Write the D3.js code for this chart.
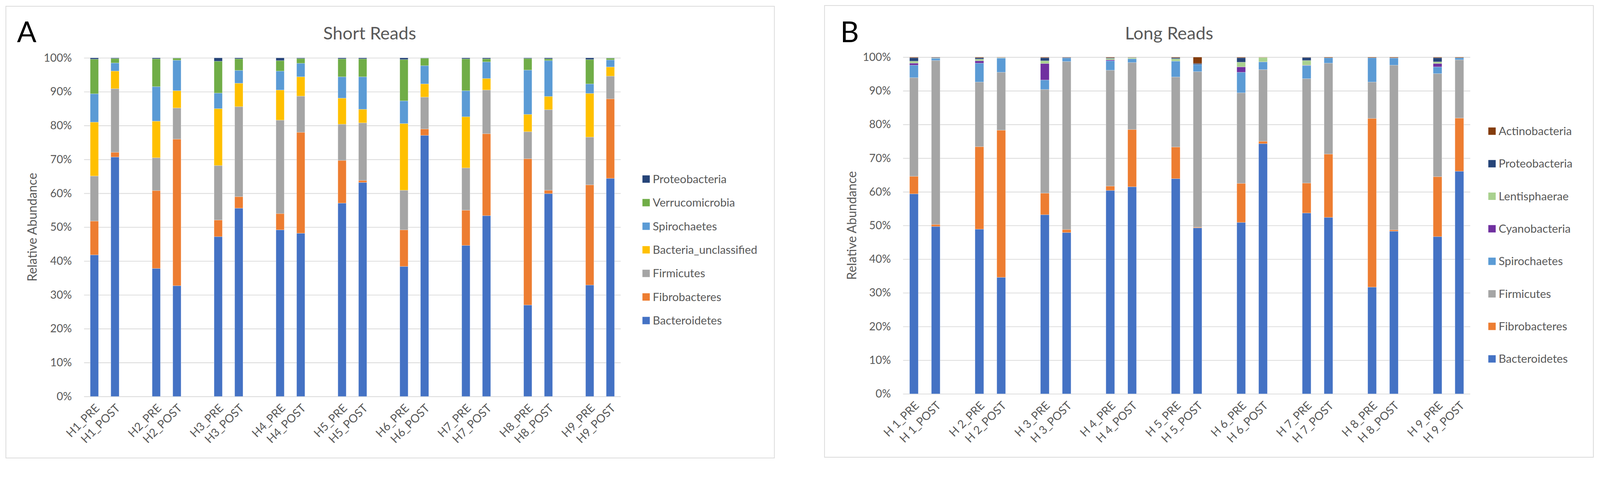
<!DOCTYPE html>
<html>
<head>
<meta charset="utf-8">
<script src="https://cdn.jsdelivr.net/npm/d3@7"></script>
<style>
  html, body { margin: 0; padding: 0; background: #fff; overflow: hidden; }
  svg { display: block; }
  text { font-family: Lato, "Open Sans", sans-serif; }
</style>
</head>
<body>
<div id="chart"></div>
<script>
// ---- Panel A: short reads (relative abundance, %) ----
const samplesA = ["H1_PRE", "H1_POST", "H2_PRE", "H2_POST", "H3_PRE", "H3_POST", "H4_PRE", "H4_POST", "H5_PRE",
                  "H5_POST", "H6_PRE", "H6_POST", "H7_PRE", "H7_POST", "H8_PRE", "H8_POST", "H9_PRE", "H9_POST"];
const phylaA = ["Bacteroidetes", "Fibrobacteres", "Firmicutes", "Bacteria_unclassified", "Spirochaetes", "Verrucomicrobia", "Proteobacteria"];
const bacteroidetesA = [41.8, 70.7, 37.8, 32.7, 47.2, 55.6, 49.2, 48.2, 57.1, 63.2, 38.4, 77.1, 44.6, 53.4, 27.0, 59.9, 32.9, 64.4];
const fibrobacteresA = [10.0, 1.4, 23.0, 43.3, 4.9, 3.4, 4.8, 29.8, 12.6, 0.6, 10.8, 1.9, 10.4, 24.2, 43.2, 1.0, 29.6, 23.5];
const firmicutesA = [13.3, 18.8, 9.7, 9.2, 16.1, 26.6, 27.6, 10.7, 10.7, 17.0, 11.7, 9.4, 12.5, 12.9, 8.0, 23.8, 14.1, 6.7];
const unclassifiedA = [15.9, 5.2, 10.8, 5.1, 16.8, 6.9, 8.9, 5.7, 7.7, 4.0, 19.7, 3.9, 15.1, 3.4, 5.1, 3.9, 12.9, 2.7];
const spirochaetesA = [8.4, 2.4, 10.2, 9.0, 4.6, 3.8, 5.6, 4.0, 6.3, 9.6, 6.7, 5.4, 7.7, 4.9, 13.1, 10.6, 2.8, 2.1];
const verrucomicrobiaA = [10.2, 1.3, 8.2, 0.6, 9.4, 3.4, 3.1, 1.4, 5.3, 5.3, 12.2, 2.2, 9.4, 0.9, 3.4, 0.5, 7.2, 0.5];
const proteobacteriaA = [0.4, 0.2, 0.3, 0.1, 1.0, 0.3, 0.8, 0.2, 0.3, 0.3, 0.5, 0.1, 0.3, 0.3, 0.2, 0.3, 0.5, 0.1];
const colorsA = ["#4472C4", "#ED7D31", "#A5A5A5", "#FFC000", "#5B9BD5", "#70AD47", "#264478"];

// ---- Panel B: long reads ----
const samplesB = ["H 1_PRE", "H 1_POST", "H 2_PRE", "H 2_POST", "H 3_PRE", "H 3_POST", "H 4_PRE", "H 4_POST", "H 5_PRE",
                  "H 5_POST", "H 6_PRE", "H 6_POST", "H 7_PRE", "H 7_POST", "H 8_PRE", "H 8_POST", "H 9_PRE", "H 9_POST"];
const phylaB = ["Bacteroidetes", "Fibrobacteres", "Firmicutes", "Spirochaetes", "Cyanobacteria", "Lentisphaerae", "Proteobacteria", "Actinobacteria"];
const bacteroidetesB = [59.4, 49.7, 48.9, 34.6, 53.2, 47.9, 60.4, 61.5, 63.9, 49.3, 50.9, 74.3, 53.7, 52.4, 31.7, 48.3, 46.7, 66.1];
const fibrobacteresB = [5.2, 0.6, 24.5, 43.7, 6.4, 0.9, 1.3, 17.0, 9.4, 0.2, 11.6, 0.7, 8.9, 18.8, 50.1, 0.4, 17.8, 15.8];
const firmicutesB = [29.3, 48.7, 19.2, 17.2, 30.8, 49.9, 34.4, 19.9, 20.8, 46.2, 26.9, 21.3, 31.0, 27.0, 10.8, 48.9, 30.6, 17.3];
const spirochaetesB = [3.7, 0.6, 5.6, 4.2, 2.8, 1.0, 2.8, 1.1, 4.7, 2.1, 6.1, 2.3, 3.9, 1.6, 7.2, 2.1, 2.0, 0.6];
const cyanobacteriaB = [0.6, 0.0, 0.7, 0.0, 4.9, 0.0, 0.3, 0.0, 0.0, 0.0, 1.6, 0.0, 0.1, 0.0, 0.0, 0.0, 1.0, 0.0];
const lentisphaeraeB = [0.6, 0.1, 0.5, 0.1, 0.8, 0.0, 0.4, 0.3, 0.7, 0.0, 1.4, 1.3, 1.4, 0.0, 0.0, 0.0, 0.5, 0.0];
const proteobacteriaB = [1.0, 0.2, 0.4, 0.1, 0.9, 0.2, 0.2, 0.1, 0.3, 0.3, 1.3, 0.0, 0.9, 0.0, 0.0, 0.1, 1.2, 0.0];
const actinobacteriaB = [0.2, 0.1, 0.2, 0.1, 0.2, 0.1, 0.2, 0.1, 0.2, 1.9, 0.2, 0.1, 0.1, 0.2, 0.2, 0.2, 0.2, 0.2];
const colorsB = ["#4472C4", "#ED7D31", "#A5A5A5", "#5B9BD5", "#7030A0", "#A9D18E", "#264478", "#843C0C"];

const yTicks = [0, 10, 20, 30, 40, 50, 60, 70, 80, 90, 100];
const textColor = "#595959";
const gridColor = "#D9D9D9";

// drawing is laid out in a 4341 x 1260 space and scaled to the window width
const svg = d3.select("#chart")
    .append("svg")
    .attr("viewBox", "0 0 4341 1260")
    .attr("preserveAspectRatio", "xMidYMin meet")
    .style("width", "100vw")
    .style("height", "100vh");

svg.append("rect").attr("width", 4341).attr("height", 1260).attr("fill", "#fff");

function drawPanel(p) {
    // frame
    svg.append("rect")
        .attr("x", p.frame[0]).attr("y", p.frame[1])
        .attr("width", p.frame[2]).attr("height", p.frame[3])
        .attr("fill", "#fff").attr("stroke", gridColor).attr("stroke-width", 2);

    // slots: a blank category after each PRE/POST pair
    const slots = p.samples.flatMap((s, i) => (i % 2 === 1 && i < p.samples.length - 1) ? [s, "gap" + i] : [s]);

    const x = d3.scaleBand()
        .domain(slots)
        .range([p.x0, p.x1])
        .paddingInner(0.6)
        .paddingOuter(0.3);

    const y = d3.scaleLinear()
        .domain([0, 100])
        .range([p.yBottom, p.yTop]);

    // gridlines + y labels
    const gAxis = svg.append("g")
        .attr("transform", `translate(${p.x0},0)`)
        .call(d3.axisLeft(y).tickValues(yTicks).tickFormat(d => d + "%")
            .tickSize(-(p.x1 - p.x0)).tickPadding(33));
    gAxis.select(".domain").remove();
    gAxis.selectAll("line").attr("stroke", gridColor).attr("stroke-width", 2);
    gAxis.selectAll("text").attr("fill", textColor).style("font-size", "30px");

    // stacked bars
    const rows = p.samples.map((s, i) => {
        const r = { sample: s };
        p.phyla.forEach((ph, k) => r[ph] = p.values[k][i]);
        return r;
    });
    const stack = d3.stack().keys(p.phyla)(rows);

    svg.append("g").selectAll("g")
        .data(stack)
        .enter().append("g")
        .attr("fill", (d, k) => p.colors[k])
        .selectAll("rect")
        .data(d => d)
        .enter().append("rect")
        .attr("x", d => x(d.data.sample))
        .attr("width", x.bandwidth())
        .attr("y", d => y(d[1]))
        .attr("height", d => Math.max(0, y(d[0]) - y(d[1])))
        .attr("stroke", "#fff")
        .attr("stroke-opacity", 0.45)
        .attr("stroke-width", 1);

    // x labels rotated -45
    svg.append("g").selectAll("text")
        .data(p.samples)
        .enter().append("text")
        .attr("transform", d => `translate(${x(d) + x.bandwidth() / 2 + 8},${p.yBottom + 26}) rotate(-45)`)
        .attr("text-anchor", "end")
        .attr("dy", "0.35em")
        .attr("fill", textColor)
        .style("font-size", "31px")
        .text(d => d);

    // y axis title
    svg.append("text")
        .attr("transform", `translate(${p.yTitleX},${(p.yTop + p.yBottom) / 2}) rotate(-90)`)
        .attr("text-anchor", "middle")
        .attr("fill", textColor)
        .style("font-size", "34px")
        .text("Relative Abundance");

    // chart title
    svg.append("text")
        .attr("x", p.titleX).attr("y", 107)
        .attr("text-anchor", "middle")
        .attr("fill", textColor)
        .style("font-size", "48px")
        .text(p.title);

    // panel letter
    svg.append("text")
        .attr("x", p.letterX).attr("y", 114)
        .attr("fill", "#000")
        .style("font-size", "78px")
        .text(p.letter);

    // legend, top item = last stacked series
    const legendItems = p.phyla.map((ph, k) => ({ name: ph, color: p.colors[k] })).reverse();
    const lg = svg.append("g").selectAll("g")
        .data(legendItems)
        .enter().append("g")
        .attr("transform", (d, i) => `translate(${p.legendX},${p.legendY + i * p.legendStep})`);
    lg.append("rect")
        .attr("x", 0).attr("y", -10)
        .attr("width", 20).attr("height", 20)
        .attr("fill", d => d.color);
    lg.append("text")
        .attr("x", 28).attr("dy", "0.35em")
        .attr("fill", textColor)
        .style("font-size", "31px")
        .text(d => d.name);
}

drawPanel({
    frame: [16, 17, 2085, 1226],
    x0: 228, x1: 1684, yTop: 157, yBottom: 1076,
    samples: samplesA, phyla: phylaA, colors: colorsA,
    values: [bacteroidetesA, fibrobacteresA, firmicutesA, unclassifiedA, spirochaetesA, verrucomicrobiaA, proteobacteriaA],
    title: "Short Reads", titleX: 1003, letter: "A", letterX: 46, yTitleX: 100,
    legendX: 1743, legendY: 486, legendStep: 64
});

drawPanel({
    frame: [2237, 15, 2086, 1226],
    x0: 2450, x1: 3989, yTop: 155, yBottom: 1069,
    samples: samplesB, phyla: phylaB, colors: colorsB,
    values: [bacteroidetesB, fibrobacteresB, firmicutesB, spirochaetesB, cyanobacteriaB, lentisphaeraeB, proteobacteriaB, actinobacteriaB],
    title: "Long Reads", titleX: 3172, letter: "B", letterX: 2280, yTitleX: 2323,
    legendX: 4038, legendY: 356, legendStep: 88.3
});
</script>
</body>
</html>
